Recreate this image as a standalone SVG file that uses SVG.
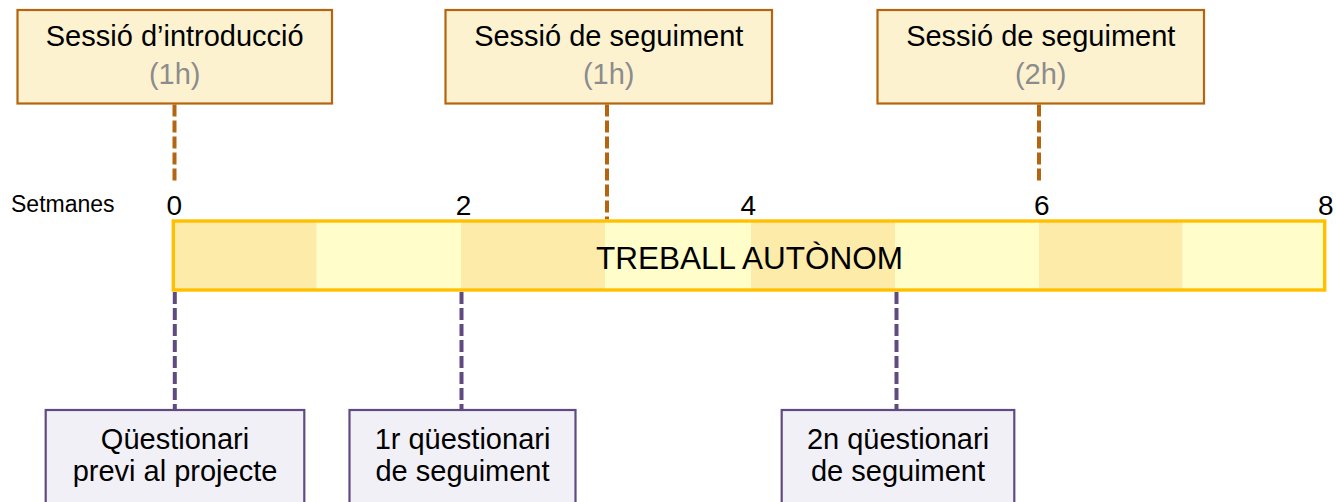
<svg xmlns="http://www.w3.org/2000/svg" width="1336" height="502" viewBox="0 0 1336 502">
<style>
text{font-family:"Liberation Sans",Arial,sans-serif;fill:#000}
.session{fill:#fdf2d0;stroke:#b5650f;stroke-width:2.2}
.quest{fill:#f2f0f7;stroke:#5f4b80;stroke-width:2.2}
.t29{font-size:29px;text-anchor:middle}
.gray{fill:#8c8c8c}
.num{font-size:28px;text-anchor:middle}
.dark{fill:#fdeba9}
.light{fill:#fffdc9}
.odash{stroke:#b5650f;stroke-width:4;stroke-dasharray:12 4;fill:none}
.pdash{stroke:#5f4b80;stroke-width:4;stroke-dasharray:12 4;fill:none}
</style>
<rect width="1336" height="502" fill="#fff"/>
<g id="connectors">
<line class="odash" x1="174.5" y1="104.5" x2="174.5" y2="181"/>
<line class="odash" x1="607" y1="104.5" x2="607" y2="219.5"/>
<line class="odash" x1="1039" y1="104.5" x2="1039" y2="181"/>
<line class="pdash" x1="174.8" y1="292" x2="174.8" y2="409"/>
<line class="pdash" x1="461.5" y1="292" x2="461.5" y2="409"/>
<line class="pdash" x1="896.5" y1="292" x2="896.5" y2="409"/>
</g>
<g id="session1">
<rect class="session" x="17.5" y="10" width="314.5" height="93.5"/>
<text class="t29" x="174.75" y="46">Sessió d’introducció</text>
<text class="t29 gray" x="174.75" y="83.5">(1h)</text>
</g>
<g id="session2">
<rect class="session" x="445.5" y="10" width="326.5" height="93.5"/>
<text class="t29" x="608.75" y="46">Sessió de seguiment</text>
<text class="t29 gray" x="608.75" y="83.5">(1h)</text>
</g>
<g id="session3">
<rect class="session" x="877.5" y="10" width="326.5" height="93.5"/>
<text class="t29" x="1040.75" y="46">Sessió de seguiment</text>
<text class="t29 gray" x="1040.75" y="83.5">(2h)</text>
</g>
<g id="axis">
<text x="11" y="212.3" style="font-size:23px">Setmanes</text>
<text class="num" x="174.2" y="214.5">0</text>
<text class="num" x="463.5" y="214.5">2</text>
<text class="num" x="748.3" y="214.5">4</text>
<text class="num" x="1041.8" y="214.5">6</text>
<text class="num" x="1325.8" y="214.5">8</text>
</g>
<g id="treball">
<rect class="dark" x="173.3" y="221" width="143.4" height="69"/>
<rect class="light" x="316.7" y="221" width="144.3" height="69"/>
<rect class="dark" x="461" y="221" width="144" height="69"/>
<rect class="light" x="605" y="221" width="146" height="69"/>
<rect class="dark" x="751" y="221" width="144" height="69"/>
<rect class="light" x="895" y="221" width="144" height="69"/>
<rect class="dark" x="1039" y="221" width="143.7" height="69"/>
<rect class="light" x="1182.7" y="221" width="142" height="69"/>
<rect x="173.3" y="221" width="1151.4" height="69" fill="none" stroke="#ffc000" stroke-width="3.4"/>
<text x="749.5" y="269.3" style="font-size:31.5px;text-anchor:middle">TREBALL AUTÒNOM</text>
</g>
<g id="quest1">
<rect class="quest" x="45.7" y="410" width="258.6" height="100"/>
<text class="t29" x="175" y="448.5">Qüestionari</text>
<text class="t29" x="175" y="481">previ al projecte</text>
</g>
<g id="quest2">
<rect class="quest" x="349.5" y="410" width="226" height="100"/>
<text class="t29" x="462.5" y="448.5">1r qüestionari</text>
<text class="t29" x="462.5" y="481">de seguiment</text>
</g>
<g id="quest3">
<rect class="quest" x="781.7" y="410" width="232.6" height="100"/>
<text class="t29" x="898" y="448.5">2n qüestionari</text>
<text class="t29" x="898" y="481">de seguiment</text>
</g>
</svg>
